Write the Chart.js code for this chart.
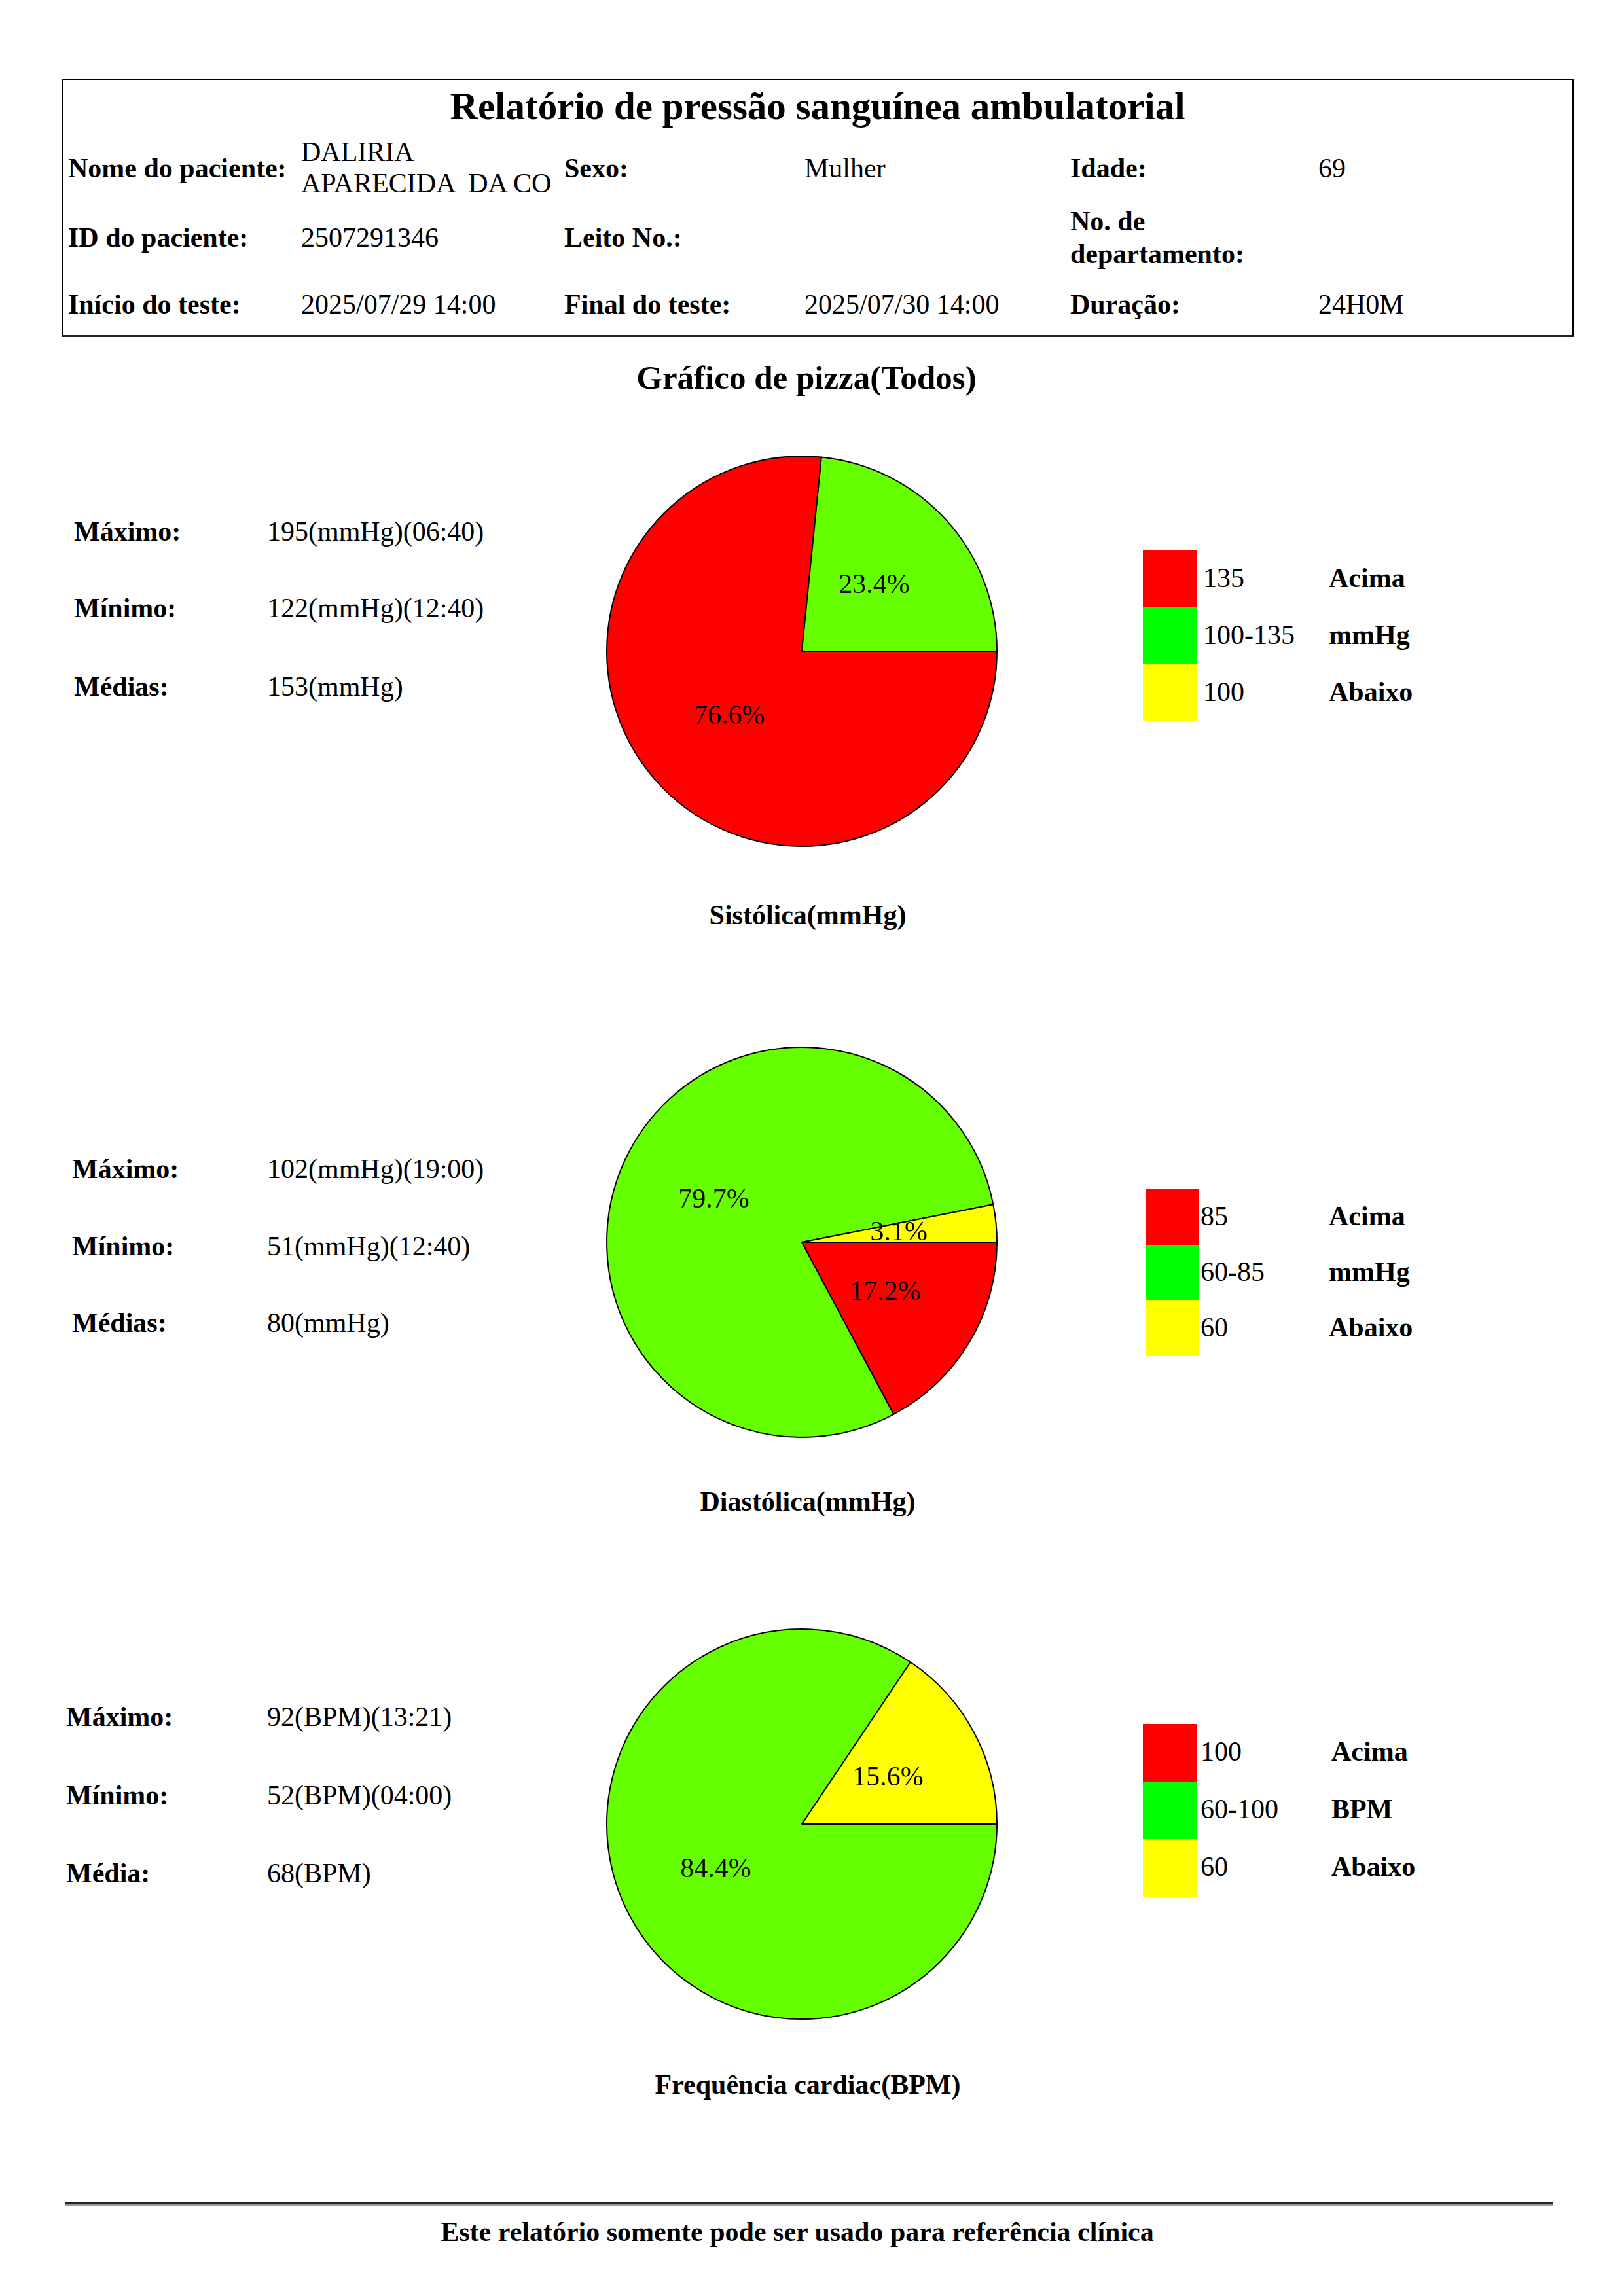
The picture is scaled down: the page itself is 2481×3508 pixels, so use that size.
<!DOCTYPE html>
<html>
<head>
<meta charset="utf-8">
<script src="https://cdn.jsdelivr.net/npm/chart.js@4"></script>
<style>
  html, body { margin: 0; padding: 0; background: #fff; }
  body { width: 2481px; height: 3508px; position: relative; font-family: "Liberation Serif", "Times New Roman", serif; color: #000; }
  .t { position: absolute; white-space: pre; line-height: 42px; font-size: 42px; }
  .b { font-weight: bold; }
  .c { transform: translateX(-50%); text-align: center; }
  .box { position: absolute; left: 95px; top: 120px; width: 2305px; height: 390px; border: 2px solid #000; border-bottom: 3px solid #222; }
  .sq { position: absolute; width: 82px; }
  .pie { position: absolute; width: 640px; height: 640px; }
  .line { position: absolute; left: 99px; top: 3365px; width: 2274px; height: 0; border-top: 3px solid #222; border-bottom: 2px solid #999; }
</style>
</head>
<body>
<div class="box"></div>
<div id="root"></div>
<div class="pie" id="w1" style="left:905px; top:675px;"><canvas id="pie1" width="640" height="640"></canvas></div>
<div class="pie" id="w2" style="left:905px; top:1578px;"><canvas id="pie2" width="640" height="640"></canvas></div>
<div class="pie" id="w3" style="left:905px; top:2467px;"><canvas id="pie3" width="640" height="640"></canvas></div>
<div class="line"></div>
<script>
// ---- data ----
const categories = ["Acima", "Normal", "Abaixo"];
const pieColors = ["#FF0000", "#66FF00", "#FFFF00"];
const legendColors = ["#FF0000", "#00FF00", "#FFFF00"];
const sysValues = [76.6, 23.4, 0];
const diaValues = [17.2, 79.7, 3.1];
const hrValues = [0, 84.4, 15.6];

const sysStatLabels = ["Máximo:", "Mínimo:", "Médias:"];
const sysStats = ["195(mmHg)(06:40)", "122(mmHg)(12:40)", "153(mmHg)"];
const diaStatLabels = ["Máximo:", "Mínimo:", "Médias:"];
const diaStats = ["102(mmHg)(19:00)", "51(mmHg)(12:40)", "80(mmHg)"];
const hrStatLabels = ["Máximo:", "Mínimo:", "Média:"];
const hrStats = ["92(BPM)(13:21)", "52(BPM)(04:00)", "68(BPM)"];

const sysLegend = ["135", "100-135", "100"];
const sysLegendNames = ["Acima", "mmHg", "Abaixo"];
const diaLegend = ["85", "60-85", "60"];
const diaLegendNames = ["Acima", "mmHg", "Abaixo"];
const hrLegend = ["100", "60-100", "60"];
const hrLegendNames = ["Acima", "BPM", "Abaixo"];

const chartTitles = ["Sistólica(mmHg)", "Diastólica(mmHg)", "Frequência cardiac(BPM)"];

// ---- text layout ----
const root = document.getElementById("root");
function txt(s, x, yc, cls, size) {
  const d = document.createElement("div");
  d.className = "t " + (cls || "");
  d.textContent = s;
  const fs = size || 42;
  d.style.fontSize = fs + "px";
  d.style.lineHeight = fs + "px";
  d.style.left = x + "px";
  d.style.top = (yc - fs / 2) + "px";
  root.appendChild(d);
  return d;
}
function sq(x, y, h, color) {
  const d = document.createElement("div");
  d.className = "sq";
  d.style.left = x + "px"; d.style.top = y + "px"; d.style.height = h + "px";
  d.style.background = color;
  root.appendChild(d);
}

// header
txt("Relatório de pressão sanguínea ambulatorial", 1249, 162, "b c", 59);
txt("Nome do paciente:", 104, 257, "b");
txt("DALIRIA", 460, 232, "");
txt("APARECIDA  DA CO", 460, 280, "");
txt("Sexo:", 862, 257, "b");
txt("Mulher", 1229, 257, "");
txt("Idade:", 1635, 257, "b");
txt("69", 2014, 257, "");
txt("ID do paciente:", 104, 363, "b");
txt("2507291346", 460, 363, "");
txt("Leito No.:", 862, 363, "b");
txt("No. de", 1635, 338, "b");
txt("departamento:", 1635, 388, "b");
txt("Início do teste:", 104, 465, "b");
txt("2025/07/29 14:00", 460, 465, "");
txt("Final do teste:", 862, 465, "b");
txt("2025/07/30 14:00", 1229, 465, "");
txt("Duração:", 1635, 465, "b");
txt("24H0M", 2014, 465, "");

txt("Gráfico de pizza(Todos)", 1232, 577, "b c", 51);

// sections
const sections = [
  {labels: sysStatLabels, vals: sysStats, lx: 113, ys: [812, 929, 1049], leg: sysLegend, names: sysLegendNames, sqx: 1746, sqy: 841, sqh: 87, tx: 1838, nx: 2030, title: chartTitles[0], ty: 1398},
  {labels: diaStatLabels, vals: diaStats, lx: 110, ys: [1786, 1904, 2021], leg: diaLegend, names: diaLegendNames, sqx: 1750, sqy: 1817, sqh: 85, tx: 1834, nx: 2030, title: chartTitles[1], ty: 2294},
  {labels: hrStatLabels, vals: hrStats, lx: 101, ys: [2623, 2743, 2862], leg: hrLegend, names: hrLegendNames, sqx: 1746, sqy: 2634, sqh: 88, tx: 1834, nx: 2034, title: chartTitles[2], ty: 3185}
];
sections.forEach(s => {
  s.labels.forEach((l, i) => {
    txt(l, s.lx, s.ys[i], "b");
    txt(s.vals[i], 408, s.ys[i], "");
  });
  s.leg.forEach((l, i) => {
    const yc = s.sqy + s.sqh * i + s.sqh / 2;
    sq(s.sqx, s.sqy + s.sqh * i, s.sqh, legendColors[i]);
    txt(l, s.tx, yc - 2, "");
    txt(s.names[i], s.nx, yc - 2, "b");
  });
  txt(s.title, 1234, s.ty, "b c", 42);
});

txt("Este relatório somente pode ser usado para referência clínica", 1218, 3410, "b c", 42);

// ---- pies ----
const pctLabels = {
  id: "pctLabels",
  afterDatasetsDraw(chart) {
    const ctx = chart.ctx;
    const meta = chart.getDatasetMeta(0);
    const data = chart.data.datasets[0].data;
    ctx.save();
    ctx.fillStyle = "#000";
    ctx.font = "42px 'Liberation Serif', serif";
    ctx.textAlign = "center";
    ctx.textBaseline = "middle";
    meta.data.forEach((el, i) => {
      if (!data[i]) return;
      const p = el.tooltipPosition();
      ctx.fillText(data[i].toFixed(1) + "%", p.x, p.y);
    });
    ctx.restore();
  }
};

function makePie(id, values) {
  new Chart(document.getElementById(id), {
    type: "pie",
    data: {
      labels: categories,
      datasets: [{
        data: values,
        backgroundColor: pieColors,
        borderColor: "#000",
        borderWidth: 2,
        hoverOffset: 0
      }]
    },
    options: {
      responsive: false,
      animation: false,
      devicePixelRatio: 1,
      rotation: 90,
      layout: { padding: 21 },
      plugins: { legend: { display: false }, tooltip: { enabled: false } },
      events: []
    },
    plugins: [pctLabels]
  });
}
makePie("pie1", sysValues);
makePie("pie2", diaValues);
makePie("pie3", hrValues);
</script>
</body>
</html>
